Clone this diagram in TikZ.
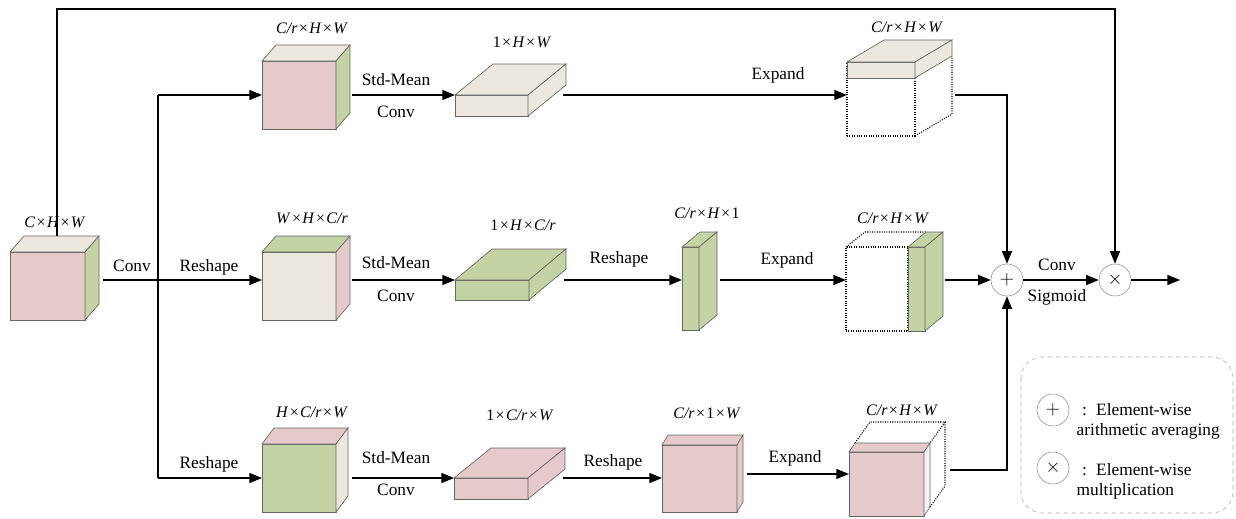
\documentclass[tikz,border=0pt]{standalone}
\usepackage{fontspec}
\setmainfont{Liberation Serif}
\usepackage{tikz}
\usetikzlibrary{calc,arrows.meta}
\definecolor{pinkc}{HTML}{E6C9CA}
\definecolor{beigec}{HTML}{ECE8DD}
\definecolor{greenc}{HTML}{C3D3A3}
\tikzset{
    blockface/.style = {draw=black!60, line width=0.5pt, rectangle, inner sep=0pt, outer sep=0pt},
    wh/.style 2 args = {minimum width=#1*0.75pt, minimum height=#2*0.75pt, anchor=north west},
    ghost/.style = {draw=black, densely dotted, line width=0.8pt},
    flow/.style = {line width=1.1pt},
    arr/.style = {flow, -{Triangle[length=9.5pt,width=7.5pt]}},
    dimlabel/.style = {font=\fontsize{12}{14}\selectfont},
    oplabel/.style = {font=\fontsize{13}{15}\selectfont},
    opcircle/.style = {circle, draw=black!45, line width=0.4pt, minimum size=24pt, inner sep=0pt, fill=white, font=\Large},
}
% top and side faces of a block whose front face is a node
\newcommand{\faces}[5]{%
    \filldraw[blockface, fill=#4] (#1.north west) -- ++(#2,#3) -- ($(#1.north east)+(#2,#3)$) -- (#1.north east) -- cycle;
    \filldraw[blockface, fill=#5] (#1.north east) -- ++(#2,#3) -- ($(#1.south east)+(#2,#3)$) -- (#1.south east) -- cycle;}
\newcommand{\by}{\kern1pt×\kern1pt}

\begin{document}
\begin{tikzpicture}[x=0.75pt, y=-0.75pt]
\useasboundingbox (0,0) rectangle (1236,518);
\coordinate (row1) at (0,95);
\coordinate (row2) at (0,280);
\coordinate (row3) at (0,478);
\coordinate (row3e) at (0,474);
\coordinate (row3o) at (0,470);
\coordinate (topline) at (0,9);
\coordinate (split) at (158,280);

% input
\node[blockface, wh={75}{68}, fill=pinkc] (c0) at (10,252) {};
\faces{c0}{14}{-16}{beigec}{greenc}
\node[dimlabel] (l-c0) at (55,222) {\textit{C}\by\textit{H}\by\textit{W}};

% first branch
\node[blockface, wh={74}{68}, fill=pinkc] (c1) at (262,61) {};
\faces{c1}{14}{-16}{beigec}{greenc}
\node[dimlabel] (l-c1) at (312,28) {\textit{C/r}\by\textit{H}\by\textit{W}};
\node[blockface, wh={73}{21}, fill=beigec] (f1) at (455,95) {};
\faces{f1}{38}{-31}{beigec}{beigec}
\node[dimlabel] (l-f1) at (522,42) {1\by\textit{H}\by\textit{W}};
\node[ghost, rectangle, inner sep=0pt, outer sep=0pt, wh={68}{74}] (d1) at (847,62) {};
\node[blockface, wh={68}{16}, fill=beigec] (e1) at (847,62) {};
\faces{e1}{37}{-22}{beigec}{beigec}
\draw[ghost] (d1.south east) -- ++(37,-22) -- ($(e1.south east)+(37,-22)$);
\node[dimlabel] (l-e1) at (907,27) {\textit{C/r}\by\textit{H}\by\textit{W}};

% second branch
\node[blockface, wh={74}{68}, fill=beigec] (c2) at (262,252) {};
\faces{c2}{14}{-16}{greenc}{pinkc}
\node[dimlabel] (l-c2) at (312,218) {\textit{W}\by\textit{H}\by\textit{C/r}};
\node[blockface, wh={74}{20}, fill=greenc] (f2) at (455,280) {};
\faces{f2}{37}{-31}{greenc}{greenc}
\node[dimlabel] (l-f2) at (523,225) {1\by\textit{H}\by\textit{C/r}};
\node[blockface, wh={17}{83}, fill=greenc] (s2) at (682,247) {};
\faces{s2}{18}{-15}{greenc}{greenc}
\node[dimlabel] (l-s2) at (707,213) {\textit{C/r}\by\textit{H}\by1};
\node[ghost, rectangle, inner sep=0pt, outer sep=0pt, wh={62}{84}] (d2) at (846,247) {};
\draw[ghost] (d2.north west) -- ++(19,-15) -- ++(62,0);
\node[blockface, wh={17}{84}, fill=greenc] (t2) at (908,247) {};
\faces{t2}{18}{-15}{greenc}{greenc}
\node[dimlabel] (l-t2) at (893,218) {\textit{C/r}\by\textit{H}\by\textit{W}};

% third branch
\node[blockface, wh={74}{68}, fill=greenc] (c3) at (262,444) {};
\faces{c3}{12}{-16}{pinkc}{beigec}
\node[dimlabel] (l-c3) at (312,412) {\textit{H}\by\textit{C/r}\by\textit{W}};
\node[blockface, wh={74}{21}, fill=pinkc] (f3) at (454,478) {};
\faces{f3}{37}{-30}{pinkc}{pinkc}
\node[dimlabel] (l-f3) at (520,415) {1\by\textit{C/r}\by\textit{W}};
\node[blockface, wh={75}{67}, fill=pinkc] (q3) at (662,445) {};
\faces{q3}{6}{-10}{pinkc}{pinkc}
\node[dimlabel] (l-q3) at (707,413) {\textit{C/r}\by1\by\textit{W}};
\node[blockface, wh={75}{64}, fill=pinkc] (b3) at (849,452) {};
\faces{b3}{6}{-9}{pinkc}{pinkc!25}
\draw[ghost] ($(b3.north west)+(6,-9)$) -- ($(b3.north west)+(21,-30)$) -- ($(b3.north east)+(21,-30)$) -- ($(b3.north east)+(6,-9)$);
\draw[ghost] ($(b3.north east)+(21,-30)$) -- ($(b3.south east)+(21,-30)$) -- ($(b3.south east)+(6,-9)$);
\node[dimlabel] (l-b3) at (902,410) {\textit{C/r}\by\textit{H}\by\textit{W}};

% fusion
\node[opcircle] (plus) at (1007,280) {$+$};
\node[opcircle] (mul) at (1115,280) {$\times$};
\coordinate (out) at (1180,280);

% connectors
\draw[arr] ($(c0.north west)+(47,-16)$) |- (topline -| mul) -- (mul.north);
\draw[flow] ($(c0.east |- split)+(18,0)$) -- (split);
\draw[flow] (split |- row1) -- (split |- row3);
\draw[arr] (split) -- (c2.west |- split);
\draw[arr] (split |- row1) -- (c1.west |- row1);
\draw[arr] (split |- row3) -- (c3.west |- row3);
\node[oplabel] (t-conv0) at (132,266) {Conv};
\node[oplabel] (t-resh0) at (209,267) {Reshape};
\node[oplabel] (t-resh1) at (209,464) {Reshape};

\draw[arr] ($(c1.east |- row1)+(16,0)$) -- (f1.north west);
\node[oplabel] (t-std1) at (396,80) {Std-Mean};
\node[oplabel] (t-cnv1) at (396,112) {Conv};
\draw[arr] ($(f1.east |- row1)+(35,0)$) -- (d1.west |- row1);
\node[oplabel] (t-exp1) at (778,75) {Expand};
\draw[arr] ($(d1.east |- row1)+(40,0)$) -| (plus.north);

\draw[arr] ($(c2.east |- row2)+(16,0)$) -- (f2.north west);
\node[oplabel] (t-std2) at (396,263) {Std-Mean};
\node[oplabel] (t-cnv2) at (396,296) {Conv};
\draw[arr] ($(f2.east |- row2)+(35,0)$) -- (s2.west |- row2);
\node[oplabel] (t-res2) at (619,259) {Reshape};
\draw[arr] ($(s2.east |- row2)+(21,0)$) -- (d2.west |- row2);
\node[oplabel] (t-exp2) at (787,260) {Expand};
\draw[arr] ($(t2.east |- row2)+(20,0)$) -- (plus.west);

\draw[arr] ($(c3.east |- row3)+(16,0)$) -- (f3.north west);
\node[oplabel] (t-std3) at (396,458) {Std-Mean};
\node[oplabel] (t-cnv3) at (396,490) {Conv};
\draw[arr] ($(f3.east |- row3)+(35,0)$) -- (q3.west |- row3);
\node[oplabel] (t-res3) at (613,462) {Reshape};
\draw[arr] ($(q3.east |- row3e)+(10,0)$) -- (b3.west |- row3e);
\node[oplabel] (t-exp3) at (795,458) {Expand};
\draw[arr] ($(b3.east |- row3o)+(26,0)$) -| (plus.south);

\draw[arr] (plus.east) -- (mul.west);
\node[oplabel] (t-conv) at (1057,265) {Conv};
\node[oplabel] (t-sig) at (1057,297) {Sigmoid};
\draw[arr] (mul.east) -- (out);

% legend
\draw[dashed, draw=black!35, line width=0.4pt, rounded corners=16pt] (1021,357) rectangle (1233,513);
\node[opcircle] (key-plus) at (1053,410) {$+$};
\node[opcircle] (key-mul) at (1053,468) {$\times$};
\node[oplabel, anchor=west, align=left] (key-t1) at (1072,421) {\hspace{4pt}:\hspace{7pt}Element-wise\\arithmetic averaging};
\node[oplabel, anchor=west, align=left] (key-t2) at (1072,481) {\hspace{4pt}:\hspace{7pt}Element-wise\\multiplication};
\end{tikzpicture}
\end{document}
